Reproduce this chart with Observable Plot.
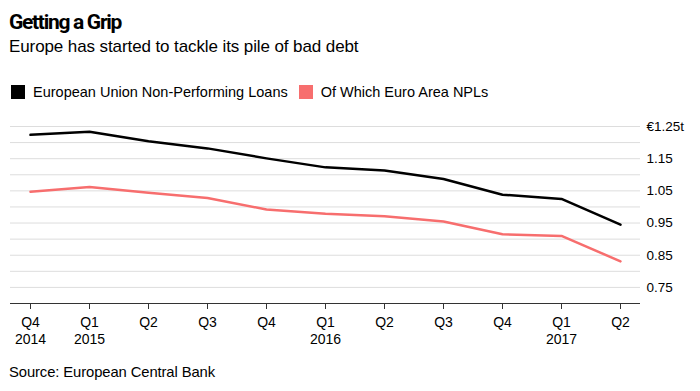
<!DOCTYPE html>
<html><head><meta charset="utf-8">
<script src="https://cdn.jsdelivr.net/npm/d3@7"></script>
<script src="https://cdn.jsdelivr.net/npm/@observablehq/plot@0.6"></script>
<style>
body{margin:0;background:#fff;font-family:"Liberation Sans",Arial,sans-serif;color:#000;}
#wrap{position:relative;width:700px;height:391px;overflow:hidden;}
.title{position:absolute;left:9px;top:10px;font-family:Roboto,"Liberation Sans",sans-serif;font-size:21px;font-weight:bold;letter-spacing:-1.3px;}
.sub{position:absolute;left:9px;top:37px;font-size:17px;letter-spacing:-0.1px;}
.legend{position:absolute;left:11px;top:84px;font-size:14.5px;display:flex;align-items:center;}
.legend .sw{width:14px;height:14px;display:inline-block;margin-right:8px;}
.legend .it{display:flex;align-items:center;margin-right:11px;}
#chart{position:absolute;left:0;top:110px;}
.src{position:absolute;left:9px;top:364px;font-size:14.8px;letter-spacing:-0.1px;}
</style></head>
<body><div id="wrap">
<div class="title">Getting a Grip</div>
<div class="sub">Europe has started to tackle its pile of bad debt</div>
<div class="legend" id="legend"></div>
<div id="chart"></div>
<div class="src">Source: European Central Bank</div>
</div>
<script>
const quarters = ["Q4\n2014","Q1\n2015","Q2","Q3","Q4","Q1\n2016","Q2","Q3","Q4","Q1\n2017","Q2"];
const euNPL = [1.224,1.234,1.204,1.182,1.151,1.123,1.113,1.087,1.038,1.025,0.945];
const euroAreaNPL = [1.047,1.062,1.044,1.028,0.992,0.979,0.971,0.955,0.915,0.910,0.831];
const seriesNames = ["European Union Non-Performing Loans","Of Which Euro Area NPLs"];
const seriesColors = ["#000000","#f76e6e"];
const yTicks = [0.75,0.85,0.95,1.05,1.15,1.25];
const gridValues = [0.75,0.80,0.85,0.90,0.95,1.00,1.05,1.10,1.15,1.20,1.25];

const leg = document.getElementById("legend");
seriesNames.forEach((n,i)=>{
  const it=document.createElement("span");it.className="it";
  it.innerHTML=`<span class="sw" style="background:${seriesColors[i]}"></span>${n}`;
  leg.appendChild(it);
});

const idx = quarters.map((q,i)=>i);
const data = [];
idx.forEach(i=>{
  data.push({i, v: euNPL[i], s: seriesNames[0]});
  data.push({i, v: euroAreaNPL[i], s: seriesNames[1]});
});

const chart = Plot.plot({
  width: 700, height: 245,
  marginTop: 16, marginBottom: 52, marginLeft: 10, marginRight: 60,
  style: {fontFamily: '"Liberation Sans",Arial,sans-serif', fontSize: "13.5px", color: "#000", background: "transparent"},
  x: {type: "point", domain: idx, padding: 0.332, label: null},
  y: {domain: [0.70, 1.25], label: null},
  color: {domain: seriesNames, range: seriesColors},
  marks: [
    Plot.ruleY(gridValues, {stroke: "#dddddd", strokeWidth: 1}),
    Plot.ruleY([0.70], {stroke: "#333", strokeWidth: 1.2}),
    Plot.axisY({anchor: "right", ticks: yTicks, tickSize: 0, tickPadding: 6,
      tickFormat: d => d === 1.25 ? "€1.25t" : d.toFixed(2), fontSize: 13.5, textAnchor: "start", label: null}),
    Plot.axisX({anchor: "bottom", ticks: idx, tickSize: 6, tickPadding: 6, stroke: "#333",
      tickFormat: i => quarters[i], fontSize: 14, lineHeight: 1.2, label: null}),
    Plot.line(data, {x: "i", y: "v", z: "s", stroke: "s", strokeWidth: 2.5, strokeLinejoin: "round"})
  ]
});
document.getElementById("chart").appendChild(chart);
</script>
</body></html>
